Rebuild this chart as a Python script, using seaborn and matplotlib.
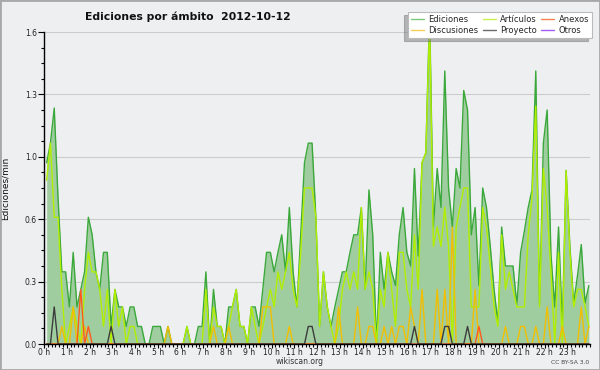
import numpy as np
import pandas as pd
import matplotlib
matplotlib.use("Agg")
import matplotlib.pyplot as plt
import seaborn as sns
from matplotlib.lines import Line2D
from matplotlib.patches import Rectangle
from matplotlib.ticker import MultipleLocator, FixedLocator, FuncFormatter

# ---- data: edits per minute, 10-minute bins over the day ----
ediciones = [
    0.93, 1.03, 1.21, 0.75, 0.37, 0.37, 0.19, 0.47, 0.19, 0.28, 0.37, 0.65,
    0.56, 0.37, 0.28, 0.47, 0.47, 0.09, 0.28, 0.19, 0.19, 0.09, 0.19, 0.19,
    0.09, 0.09, 0.00, 0.00, 0.09, 0.09, 0.09, 0.00, 0.09, 0.00, 0.00, 0.00,
    0.00, 0.09, 0.00, 0.00, 0.09, 0.09, 0.37, 0.00, 0.28, 0.09, 0.09, 0.00,
    0.19, 0.19, 0.28, 0.09, 0.09, 0.00, 0.19, 0.19, 0.09, 0.28, 0.47, 0.47,
    0.37, 0.47, 0.56, 0.37, 0.70, 0.37, 0.19, 0.56, 0.93, 1.03, 1.03, 0.65,
    0.09, 0.37, 0.19, 0.09, 0.19, 0.28, 0.37, 0.37, 0.47, 0.56, 0.56, 0.70,
    0.28, 0.79, 0.56, 0.00, 0.47, 0.28, 0.47, 0.37, 0.30, 0.56, 0.70, 0.47,
    0.40, 0.90, 0.45, 0.93, 0.98, 1.70, 0.60, 0.90, 0.70, 1.40, 0.80, 0.60,
    0.90, 0.80, 1.30, 1.20, 0.56, 0.70, 0.30, 0.80, 0.70, 0.50, 0.28, 0.11,
    0.60, 0.40, 0.40, 0.40, 0.20, 0.47, 0.58, 0.70, 0.79, 1.40, 0.20, 1.03,
    1.20, 0.46, 0.19, 0.60, 0.09, 0.89, 0.50, 0.21, 0.35, 0.51, 0.21, 0.30,
]
articulos = [
    0.84, 1.03, 0.65, 0.65, 0.28, 0.00, 0.09, 0.19, 0.09, 0.00, 0.28, 0.47,
    0.37, 0.37, 0.28, 0.09, 0.28, 0.00, 0.28, 0.09, 0.19, 0.00, 0.09, 0.09,
    0.00, 0.00, 0.00, 0.00, 0.00, 0.00, 0.00, 0.00, 0.00, 0.00, 0.00, 0.00,
    0.00, 0.09, 0.00, 0.00, 0.00, 0.00, 0.28, 0.00, 0.19, 0.09, 0.09, 0.00,
    0.09, 0.19, 0.28, 0.09, 0.09, 0.00, 0.19, 0.09, 0.00, 0.09, 0.19, 0.28,
    0.19, 0.37, 0.28, 0.37, 0.47, 0.28, 0.19, 0.47, 0.80, 0.80, 0.80, 0.65,
    0.09, 0.37, 0.19, 0.09, 0.00, 0.09, 0.28, 0.37, 0.28, 0.37, 0.28, 0.70,
    0.28, 0.37, 0.28, 0.00, 0.28, 0.19, 0.47, 0.28, 0.09, 0.47, 0.47, 0.28,
    0.19, 0.56, 0.28, 0.93, 0.98, 1.65, 0.50, 0.60, 0.50, 0.70, 0.50, 0.00,
    0.60, 0.70, 0.80, 0.80, 0.19, 0.19, 0.19, 0.70, 0.60, 0.40, 0.19, 0.09,
    0.56, 0.28, 0.37, 0.28, 0.19, 0.19, 0.19, 0.56, 0.75, 1.22, 0.19, 0.90,
    0.70, 0.37, 0.00, 0.47, 0.00, 0.89, 0.47, 0.19, 0.28, 0.28, 0.19, 0.09,
]
discusiones = [
    0.00, 0.00, 0.00, 0.00, 0.09, 0.00, 0.00, 0.19, 0.00, 0.00, 0.09, 0.00,
    0.00, 0.00, 0.00, 0.00, 0.00, 0.00, 0.00, 0.00, 0.00, 0.00, 0.00, 0.00,
    0.00, 0.00, 0.00, 0.00, 0.00, 0.00, 0.00, 0.00, 0.09, 0.00, 0.00, 0.00,
    0.00, 0.00, 0.00, 0.00, 0.00, 0.00, 0.00, 0.00, 0.09, 0.00, 0.00, 0.00,
    0.09, 0.00, 0.00, 0.00, 0.00, 0.00, 0.00, 0.00, 0.00, 0.19, 0.19, 0.19,
    0.00, 0.00, 0.00, 0.00, 0.09, 0.00, 0.00, 0.00, 0.00, 0.00, 0.00, 0.00,
    0.00, 0.00, 0.00, 0.00, 0.00, 0.19, 0.00, 0.00, 0.00, 0.00, 0.19, 0.00,
    0.00, 0.09, 0.09, 0.00, 0.00, 0.09, 0.00, 0.09, 0.00, 0.09, 0.09, 0.00,
    0.19, 0.09, 0.00, 0.28, 0.00, 0.00, 0.00, 0.28, 0.00, 0.28, 0.00, 0.60,
    0.00, 0.00, 0.00, 0.00, 0.00, 0.28, 0.00, 0.00, 0.00, 0.00, 0.00, 0.00,
    0.00, 0.09, 0.00, 0.00, 0.00, 0.09, 0.09, 0.00, 0.00, 0.09, 0.00, 0.00,
    0.19, 0.00, 0.00, 0.00, 0.09, 0.00, 0.00, 0.00, 0.00, 0.19, 0.00, 0.09,
]
anexos = [
    0.00, 0.00, 0.00, 0.00, 0.00, 0.00, 0.00, 0.00, 0.00, 0.28, 0.00, 0.09,
    0.00, 0.00, 0.00, 0.00, 0.00, 0.00, 0.00, 0.00, 0.00, 0.00, 0.00, 0.00,
    0.00, 0.00, 0.00, 0.00, 0.00, 0.00, 0.00, 0.00, 0.00, 0.00, 0.00, 0.00,
    0.00, 0.00, 0.00, 0.00, 0.00, 0.00, 0.00, 0.00, 0.00, 0.00, 0.00, 0.00,
    0.00, 0.00, 0.00, 0.00, 0.00, 0.00, 0.00, 0.00, 0.00, 0.00, 0.00, 0.00,
    0.00, 0.00, 0.00, 0.00, 0.00, 0.00, 0.00, 0.00, 0.00, 0.00, 0.00, 0.00,
    0.00, 0.00, 0.00, 0.00, 0.00, 0.00, 0.00, 0.00, 0.00, 0.00, 0.00, 0.00,
    0.00, 0.00, 0.00, 0.00, 0.00, 0.00, 0.00, 0.00, 0.00, 0.00, 0.00, 0.00,
    0.00, 0.00, 0.00, 0.00, 0.00, 0.00, 0.00, 0.00, 0.00, 0.00, 0.00, 0.00,
    0.00, 0.00, 0.00, 0.00, 0.00, 0.00, 0.09, 0.00, 0.00, 0.00, 0.00, 0.00,
    0.00, 0.00, 0.00, 0.00, 0.00, 0.00, 0.00, 0.00, 0.00, 0.00, 0.00, 0.00,
    0.00, 0.00, 0.00, 0.00, 0.00, 0.00, 0.00, 0.00, 0.00, 0.00, 0.00, 0.00,
]
proyecto = [
    0.00, 0.00, 0.19, 0.00, 0.00, 0.00, 0.00, 0.00, 0.00, 0.00, 0.00, 0.00,
    0.00, 0.00, 0.00, 0.00, 0.00, 0.09, 0.00, 0.00, 0.00, 0.00, 0.00, 0.00,
    0.00, 0.00, 0.00, 0.00, 0.00, 0.00, 0.00, 0.00, 0.00, 0.00, 0.00, 0.00,
    0.00, 0.00, 0.00, 0.00, 0.00, 0.00, 0.00, 0.00, 0.00, 0.00, 0.00, 0.00,
    0.00, 0.00, 0.00, 0.00, 0.00, 0.00, 0.00, 0.00, 0.00, 0.00, 0.00, 0.00,
    0.00, 0.00, 0.00, 0.00, 0.00, 0.00, 0.00, 0.00, 0.00, 0.09, 0.09, 0.00,
    0.00, 0.00, 0.00, 0.00, 0.00, 0.00, 0.00, 0.00, 0.00, 0.00, 0.00, 0.00,
    0.00, 0.00, 0.00, 0.00, 0.00, 0.00, 0.00, 0.00, 0.00, 0.00, 0.00, 0.00,
    0.00, 0.09, 0.00, 0.00, 0.00, 0.00, 0.00, 0.00, 0.00, 0.09, 0.09, 0.00,
    0.00, 0.00, 0.00, 0.09, 0.00, 0.00, 0.00, 0.00, 0.00, 0.00, 0.00, 0.00,
    0.00, 0.00, 0.00, 0.00, 0.00, 0.00, 0.00, 0.00, 0.00, 0.00, 0.00, 0.00,
    0.00, 0.00, 0.00, 0.00, 0.00, 0.00, 0.00, 0.00, 0.00, 0.00, 0.00, 0.00,
]
otros = [0.00] * 144

series_names = ["Ediciones", "Artículos", "Anexos", "Discusiones", "Proyecto", "Otros"]
title_text = "Ediciones por ámbito  2012-10-12"
y_label = "Ediciones/min"
hour_labels = [f"{h} h" for h in range(24)]

# ---- frame ----
hours = (np.arange(144) + 0.7) / 6.0
df = pd.DataFrame({
    "hora": hours,
    "Ediciones": ediciones,
    "Artículos": articulos,
    "Discusiones": discusiones,
    "Anexos": anexos,
    "Proyecto": proyecto,
    "Otros": otros,
})

sns.set_theme(style="white")
plt.rcParams["font.family"] = ["DejaVu Sans"]

BG = "#EEEFF1"
colors = {
    "Ediciones": "#3AA83A",
    "Artículos": "#B2EE00",
    "Discusiones": "#F2BE00",
    "Anexos": "#FF5A1E",
    "Proyecto": "#3C3C3C",
    "Otros": "#9B30FF",
}
legend_colors = {
    "Ediciones": "#7CC87C",
    "Artículos": "#C8F04A",
    "Discusiones": "#F5D055",
    "Anexos": "#F5834F",
    "Proyecto": "#6A6A6A",
    "Otros": "#A35CF0",
}

fig = plt.figure(figsize=(6.0, 3.7), dpi=100, facecolor=BG)
ax = fig.add_axes([44 / 600, 26 / 370, 546 / 600, 312 / 370])
ax.set_facecolor(BG)

ax.fill_between(df["hora"], 0, df["Ediciones"], color="#A0CDA0", lw=0, zorder=1)

draw_order = [("Otros", 2), ("Ediciones", 3), ("Artículos", 4),
              ("Discusiones", 5), ("Anexos", 6), ("Proyecto", 7)]
for name, z in draw_order:
    sns.lineplot(data=df, x="hora", y=name, ax=ax, color=colors[name],
                 lw=1.0, zorder=z, legend=False)

ax.set_xlim(0, 24)
ax.set_ylim(0, 1.6)
ax.set_xlabel("")
ax.set_ylabel(y_label, fontsize=6.5, color="#111111")
ax.yaxis.set_label_coords(-34 / 546, 0.5)

for s in ["top", "right"]:
    ax.spines[s].set_visible(False)
for s in ["left", "bottom"]:
    ax.spines[s].set_color("black")
    ax.spines[s].set_linewidth(1.0)
    ax.spines[s].set_zorder(10)

ax.xaxis.set_major_locator(FixedLocator(list(range(24))))
ax.xaxis.set_major_formatter(FuncFormatter(lambda v, p: hour_labels[int(round(v))] if 0 <= round(v) < 24 else ""))
ax.xaxis.set_minor_locator(MultipleLocator(1 / 6))
ax.yaxis.set_major_locator(FixedLocator([0, 0.32, 0.64, 0.96, 1.28, 1.6]))
ax.yaxis.set_major_formatter(FuncFormatter(lambda v, p: f"{v:.1f}"))
ax.yaxis.set_minor_locator(MultipleLocator(0.08))

ax.tick_params(axis="x", which="major", direction="out", length=3, width=0.8,
               color="black", labelsize=5.5, pad=0, labelcolor="#222222")
ax.tick_params(axis="y", which="major", direction="out", length=4, width=0.8,
               color="black", labelsize=5.5, pad=1, labelcolor="#222222")
ax.tick_params(axis="both", which="minor", direction="out", length=2.2, width=0.8,
               color="black")
ax.tick_params(axis="x", which="both", bottom=True)
ax.tick_params(axis="y", which="both", left=True)

ax.grid(axis="y", which="major", color="#CCCCCC", lw=0.8, zorder=0)
ax.set_axisbelow(True)

fig.text(188 / 600, 1 - 17 / 370, title_text, ha="center", va="center",
         fontsize=7.8, fontweight="bold", color="#111111")

legend_order = ["Ediciones", "Discusiones", "Artículos", "Proyecto", "Anexos", "Otros"]
handles = [Line2D([0], [0], color=legend_colors[n], lw=1.0) for n in legend_order]
leg = fig.legend(handles, legend_order, ncol=3, loc="upper right",
                 bbox_to_anchor=(592 / 600, 1 - 12 / 370), fontsize=6,
                 frameon=True, fancybox=False, edgecolor="#BBBBBB",
                 facecolor="white", framealpha=1, handlelength=1.6,
                 handletextpad=0.5, columnspacing=0.5, labelspacing=0.2,
                 borderpad=0.35, borderaxespad=0,
                 shadow={"ox": -3, "oy": -2.5, "color": "#7A7A7A"})
leg.get_frame().set_linewidth(0.8)

fig.text(300 / 600, 1 - 362 / 370, "wikiscan.org", ha="center", va="center",
         fontsize=5.5, color="#333333")
fig.text(589 / 600, 1 - 363 / 370, "CC BY-SA 3.0", ha="right", va="center",
         fontsize=4.3, color="#444444")

fig.patches.append(Rectangle((0, 0), 1, 1, transform=fig.transFigure,
                             fill=False, edgecolor="#A8A8A8", lw=2))

fig.savefig("out.png", dpi=100, facecolor=BG)
